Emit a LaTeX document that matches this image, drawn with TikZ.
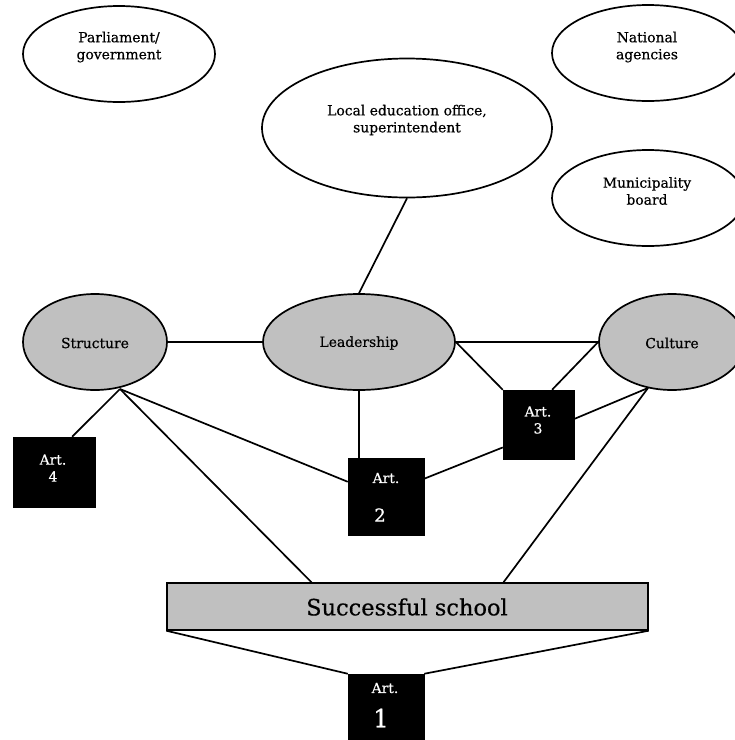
\documentclass[tikz,border=0pt]{standalone}
\usepackage{fontspec}
\setmainfont{DejaVu Serif}[FakeBold=0.5]
\usetikzlibrary{shapes.geometric,calc}
\definecolor{ovalgray}{HTML}{C0C0C0}
\newcommand{\smalltxt}{\fontsize{13.9}{17}\selectfont}
\begin{document}
\begin{tikzpicture}[x=1pt,y=-1pt,line width=1.7pt,
  oval/.style={ellipse,draw=black,fill=white,inner sep=0pt},
  grayoval/.style={ellipse,draw=black,fill=ovalgray,inner sep=0pt},
  artbox/.style={rectangle,draw=black,fill=black,inner sep=0pt,line width=0.5pt},
  lbl/.style={align=center,inner sep=0pt,font=\smalltxt},
  wlbl/.style={align=center,inner sep=0pt,font=\smalltxt,text=white}]
\useasboundingbox (0,0) rectangle (735,740);
% ellipses
\node[oval,minimum width=192pt,minimum height=96pt] (Parl) at (119,54) {};
\node[oval,minimum width=192pt,minimum height=96pt] (Nat) at (648,53) {};
\node[oval,minimum width=192pt,minimum height=96pt] (Muni) at (648,198) {};
\node[oval,minimum width=290pt,minimum height=139pt] (Local) at (407,128) {};
\node[grayoval,minimum width=144pt,minimum height=96pt] (Struct) at (95,342) {};
\node[grayoval,minimum width=192pt,minimum height=96pt] (Lead) at (359,342) {};
\node[grayoval,minimum width=146pt,minimum height=96pt] (Cult) at (672,342) {};
% labels
\node[lbl] (tParl) at (119,47) {Parliament/\\government};
\node[lbl] (tNat) at (647,47) {National\\agencies};
\node[lbl] (tMuni) at (647,191) {Municipality\\board};
\node[lbl] (tLocal) at (407,120) {Local education office,\\superintendent};
\node[lbl] (tStruct) at (95,343) {Structure};
\node[lbl] (tLead) at (359,343) {Leadership};
\node[lbl] (tCult) at (672,343) {Culture};
% boxes
\node[rectangle,draw=black,fill=ovalgray,inner sep=0pt,line width=1.4pt,minimum width=481pt,minimum height=47pt] (Succ) at (407.5,606.5) {};
\node[inner sep=0pt,font=\fontsize{22.5}{26}\selectfont] (tSucc) at (407,607) {Successful school};
\node[artbox,minimum width=76pt,minimum height=77pt] (A2) at (386,496.5) {};
\node[artbox,minimum width=71pt,minimum height=69pt] (A3) at (538.5,424.5) {};
\node[artbox,minimum width=82pt,minimum height=70pt] (A4) at (54,472) {};
\node[artbox,minimum width=76pt,minimum height=68pt] (A1) at (386,708) {};
\node[wlbl] (tA4) at (53,468) {Art.\\4};
\node[wlbl] (tA3) at (538,420) {Art.\\3};
\node[wlbl] (tA2a) at (386,478) {Art.};
\node[inner sep=0pt,text=white,font=\fontsize{18}{20}\selectfont] (tA2b) at (380,515) {2};
\node[wlbl] (tA1a) at (385,688) {Art.};
\node[inner sep=0pt,text=white,font=\fontsize{25}{28}\selectfont] (tA1b) at (381,718) {1};
% connector points
\coordinate (Sb) at (120,389);
\coordinate (Cb) at (648,388);
% connectors
\draw (Local.south) -- (Lead.north);
\draw (Struct.east) -- (Lead.west);
\draw (Lead.east) -- (Cult.west);
\draw (Lead.east) -- (A3.north west);
\draw (Cult.west) -- ($(A3.north west)!0.69!(A3.north east)$);
\draw ($(A3.north east)!0.42!(A3.south east)$) -- (Cb);
\draw (Cb) -- ($(Succ.north west)!0.699!(Succ.north east)$);
\draw ($(A3.north west)!0.83!(A3.south west)$) -- ($(A2.north east)!0.27!(A2.south east)$);
\draw (Lead.south) -- (Lead.south |- A2.north);
\draw (Sb) -- ($(A4.north west)!0.72!(A4.north east)$);
\draw (Sb) -- ($(A2.north west)!0.31!(A2.south west)$);
\draw (Sb) -- ($(Succ.north west)!0.301!(Succ.north east)$);
\draw (Succ.south west) -- (A1.north west);
\draw (Succ.south east) -- (A1.north east);
\end{tikzpicture}
\end{document}
